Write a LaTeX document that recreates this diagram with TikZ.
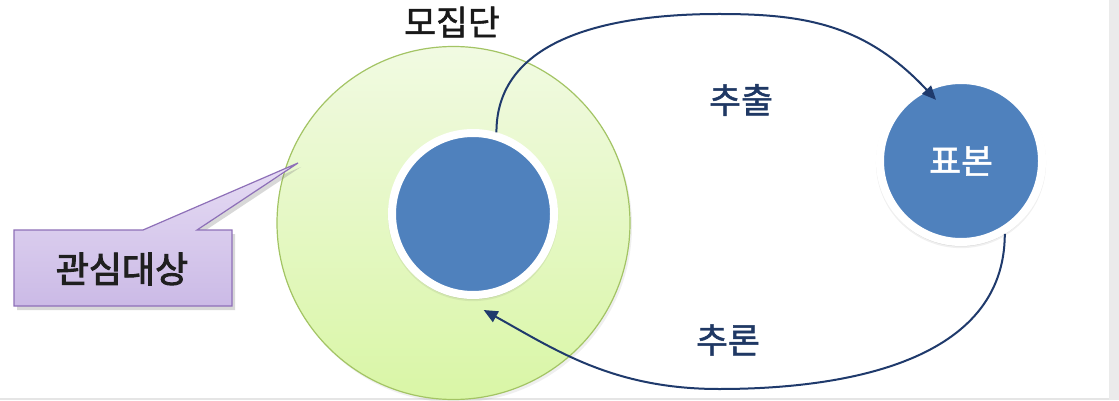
\documentclass[tikz,border=0pt]{standalone}
\usepackage{fontspec}
\setmainfont{Noto Sans CJK KR}
\newfontfamily\krsemi[FakeBold=2.6]{Noto Sans CJK KR}
\newfontfamily\krlight[FakeBold=1.4]{Noto Sans CJK KR}
\usetikzlibrary{arrows.meta,shadows}
\newlength\pxu
\setlength\pxu{0.75pt}
\definecolor{greentop}{HTML}{F1FAE2}
\definecolor{greenbot}{HTML}{D9F6A6}
\definecolor{greenline}{HTML}{A3C464}
\definecolor{blueF}{HTML}{4F81BD}
\definecolor{arrowc}{HTML}{1F3A6C}
\definecolor{labc}{HTML}{1F3864}
\definecolor{purtop}{HTML}{E6DCF4}
\definecolor{purbot}{HTML}{CBBAE6}
\definecolor{purline}{HTML}{8E70B8}
\tikzset{
  bluecirc/.style={circle, inner sep=0pt, minimum size=162\pxu, fill=blueF, draw=white, line width=8\pxu,
    general shadow={shadow scale=1.05, opacity=0.06, shadow yshift=-1.5pt, fill=black},
    general shadow={shadow scale=1.03, opacity=0.10, shadow yshift=-1.5pt, fill=black},
    general shadow={shadow scale=1.012, opacity=0.12, shadow yshift=-1pt, fill=black}},
  flow/.style={draw=arrowc, line width=1.5pt, -{Triangle[length=10.5pt, width=9pt]}},
  txt/.style={font=\fontsize{26}{30}\selectfont\krlight, inner sep=0pt},
  lab/.style={txt, text=labc},
}
\begin{document}
\begin{tikzpicture}[x=0.75pt, y=0.75pt]
\useasboundingbox (0,0) rectangle (1119,400);
\fill[white] (0,0) rectangle (1119,400);
\fill[black!8] (1109,0) rectangle (1119,400);
\fill[black!10] (0,0) rectangle (1109,2);

% population circle
\node[circle, inner sep=0pt, minimum size=353\pxu, draw=greenline, line width=1.2\pxu,
  top color=greentop, bottom color=greenbot,
  drop shadow={opacity=0.12, shadow xshift=2\pxu, shadow yshift=-3\pxu}] (pop) at (453.5,177) {};

% inner target circle and sample
\node[bluecirc] (target) at (473,186) {};
\node[bluecirc, text=white, font=\fontsize{26}{30}\selectfont\krlight] (sample) at (961,239) {표본};

% callout
\draw[draw=purline, line width=1.2\pxu, top color=purtop, bottom color=purbot,
  drop shadow={opacity=0.3, shadow xshift=3\pxu, shadow yshift=-4\pxu}]
  (14,94) -- (14,170) -- (143,170) -- (298,237) -- (197,170) -- (232,170) -- (232,94) -- cycle;
\node[font=\fontsize{27}{31}\selectfont\krsemi, text=black!88, inner sep=0pt] (interest) at (122,131) {관심대상};

% labels
\node[txt, text=black!90] (poplabel) at (452,378) {모집단};
\node[lab] (extract) at (741,300) {추출};
\node[lab] (infer) at (728,60) {추론};

% arrows
\coordinate (arcTop) at (719,386);
\coordinate (arcBot) at (719,11);
\draw[flow, shorten >=-15pt] (target.74) to[out=90,in=180] (arcTop) to[out=0,in=133] (sample.117);
\draw[flow, shorten >=18pt] (sample.-59) to[out=-90,in=0] (arcBot) to[out=180,in=-29] (target.-97);
\end{tikzpicture}
\end{document}
